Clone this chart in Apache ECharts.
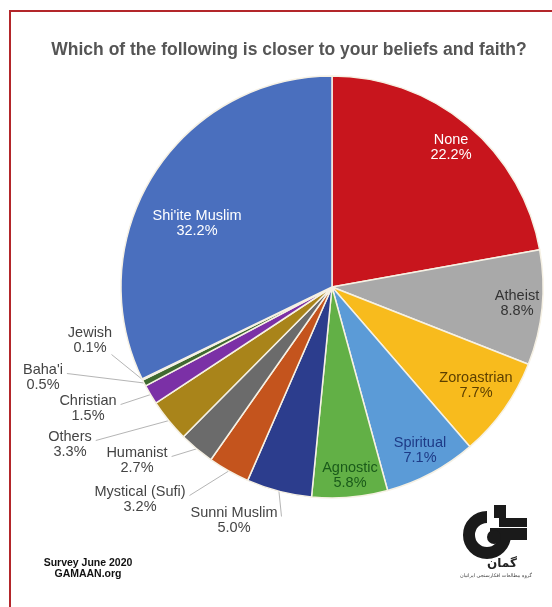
<!DOCTYPE html>
<html>
<head>
<meta charset="utf-8">
<script src="https://cdn.jsdelivr.net/npm/echarts@6/dist/echarts.min.js"></script>
<style>
  html, body { margin: 0; padding: 0; background: #fff; }
  #main { width: 552px; height: 607px; }
</style>
</head>
<body>
<div id="main"></div>
<script>
// survey answers, clockwise from the top
var categories = ['None', 'Atheist', 'Zoroastrian', 'Spiritual', 'Agnostic', 'Sunni Muslim',
  'Mystical (Sufi)', 'Humanist', 'Others', 'Christian', "Baha'i", 'Jewish', "Shi'ite Muslim"];
var shares = [22.2, 8.8, 7.7, 7.1, 5.8, 5.0, 3.2, 2.7, 3.3, 1.5, 0.5, 0.1, 32.2];
var colors = ['#c8151d', '#a9a9a9', '#f8bb1d', '#5b9bd7', '#62b046', '#2c3d8d',
  '#c4541d', '#6b6b6b', '#a9841a', '#7b30a6', '#3f6a30', '#86b8e2', '#4a6fbe'];

var LABEL_FONT = '14.5px Liberation Sans, Arial';
var LINE_H = 15;

// label centre, text colour, inside?, where the leader line meets the label
var labelSpot = {
  'None': [451, 147, '#ffffff', true],
  'Atheist': [517, 303, '#333333', true],
  'Zoroastrian': [476, 385, '#5c3f00', true],
  'Spiritual': [420, 450, '#1e3a86', true],
  'Agnostic': [350, 475, '#1a5a1a', true],
  "Shi'ite Muslim": [197, 223, '#ffffff', true],
  'Sunni Muslim': [234, 520, '#444', false, 'name'],
  'Mystical (Sufi)': [140, 499, '#444', false, 'name'],
  'Humanist': [137, 460, '#444', false, 'name'],
  'Others': [70, 444, '#444', false, 'name'],
  'Christian': [88, 408, '#444', false, 'name'],
  "Baha'i": [43, 377, '#444', false, 'name'],
  'Jewish': [90, 340, '#444', false, 'value']
};

var measureCtx = document.createElement('canvas').getContext('2d');
measureCtx.font = LABEL_FONT;
function textW(s) { return measureCtx.measureText(s).width; }
function pct(v) { return v.toFixed(1) + '%'; }

var chart = echarts.init(document.getElementById('main'));

var pieData = categories.map(function (name, i) {
  var s = labelSpot[name];
  return {
    name: name,
    value: shares[i],
    itemStyle: { color: colors[i] },
    label: { position: s[3] ? 'inside' : 'outside', color: s[2] },
    labelLine: { show: !s[3] }
  };
});

chart.setOption({
  backgroundColor: '#ffffff',
  animation: false,
  title: {
    text: 'Which of the following is closer to your beliefs and faith?',
    left: 284,
    top: 36,
    textAlign: 'center',
    textStyle: { fontFamily: 'Liberation Sans, Arial', fontSize: 17.5, fontWeight: 'bold', color: '#555' }
  },
  graphic: [
    // red frame
    { type: 'line', shape: { x1: 9, y1: 11, x2: 552, y2: 11 }, style: { stroke: '#b3262a', lineWidth: 2 } },
    { type: 'line', shape: { x1: 10, y1: 10, x2: 10, y2: 607 }, style: { stroke: '#b3262a', lineWidth: 2 } },
    // footnote
    {
      type: 'text', x: 88, y: 558,
      style: {
        text: 'Survey June 2020\nGAMAAN.org', textAlign: 'center',
        font: 'bold 10.5px Liberation Sans, Arial', fill: '#111', lineHeight: 11
      }
    },
    // logo
    {
      type: 'arc',
      shape: { cx: 487, cy: 535, r: 18, startAngle: -Math.PI / 2, endAngle: 0, clockwise: false },
      style: { stroke: '#1a1a1a', lineWidth: 12, fill: null }
    },
    { type: 'rect', shape: { x: 490, y: 528, width: 37, height: 12 }, style: { fill: '#1a1a1a' } },
    { type: 'circle', shape: { cx: 494, cy: 537, r: 7 }, style: { fill: '#1a1a1a' } },
    { type: 'rect', shape: { x: 494, y: 505, width: 12, height: 13 }, style: { fill: '#1a1a1a' } },
    { type: 'rect', shape: { x: 499, y: 518, width: 28, height: 9 }, style: { fill: '#1a1a1a' } },
    {
      type: 'text', x: 502, y: 558,
      style: { text: 'گمان', textAlign: 'center', font: 'bold 12px DejaVu Sans', fill: '#222' }
    },
    {
      type: 'text', x: 496, y: 573,
      style: { text: 'گروه مطالعات افکارسنجی ایرانیان', textAlign: 'center', font: '5px DejaVu Sans', fill: '#444' }
    }
  ],
  series: [{
    type: 'pie',
    center: [332, 287],
    radius: 211,
    startAngle: 90,
    clockwise: true,
    avoidLabelOverlap: false,
    emphasis: { disabled: true },
    itemStyle: { borderColor: '#f6f1e4', borderWidth: 1.5 },
    label: {
      fontFamily: 'Liberation Sans, Arial',
      fontSize: 14.5,
      lineHeight: LINE_H,
      align: 'center',
      formatter: function (p) { return p.name + '\n' + pct(p.value); }
    },
    labelLine: { lineStyle: { color: '#b5b5b5', width: 1 }, length: 8, length2: 8 },
    labelLayout: function (p) {
      var name = categories[p.dataIndex];
      var s = labelSpot[name];
      var out = { x: s[0], y: s[1], align: 'center', verticalAlign: 'middle', hideOverlap: false };
      if (!s[3] && p.labelLinePoints) {
        var edge = p.labelLinePoints[0];
        var end;
        if (s[4] === 'value') {
          end = [s[0] + textW(pct(shares[p.dataIndex])) / 2 + 5, s[1] + LINE_H / 2 + 7];
        } else {
          end = [s[0] + textW(name) / 2 + 4, s[1] - LINE_H / 2 + 4];
        }
        out.labelLinePoints = [edge, end];
      }
      return out;
    },
    data: pieData
  }]
});
</script>
</body>
</html>
